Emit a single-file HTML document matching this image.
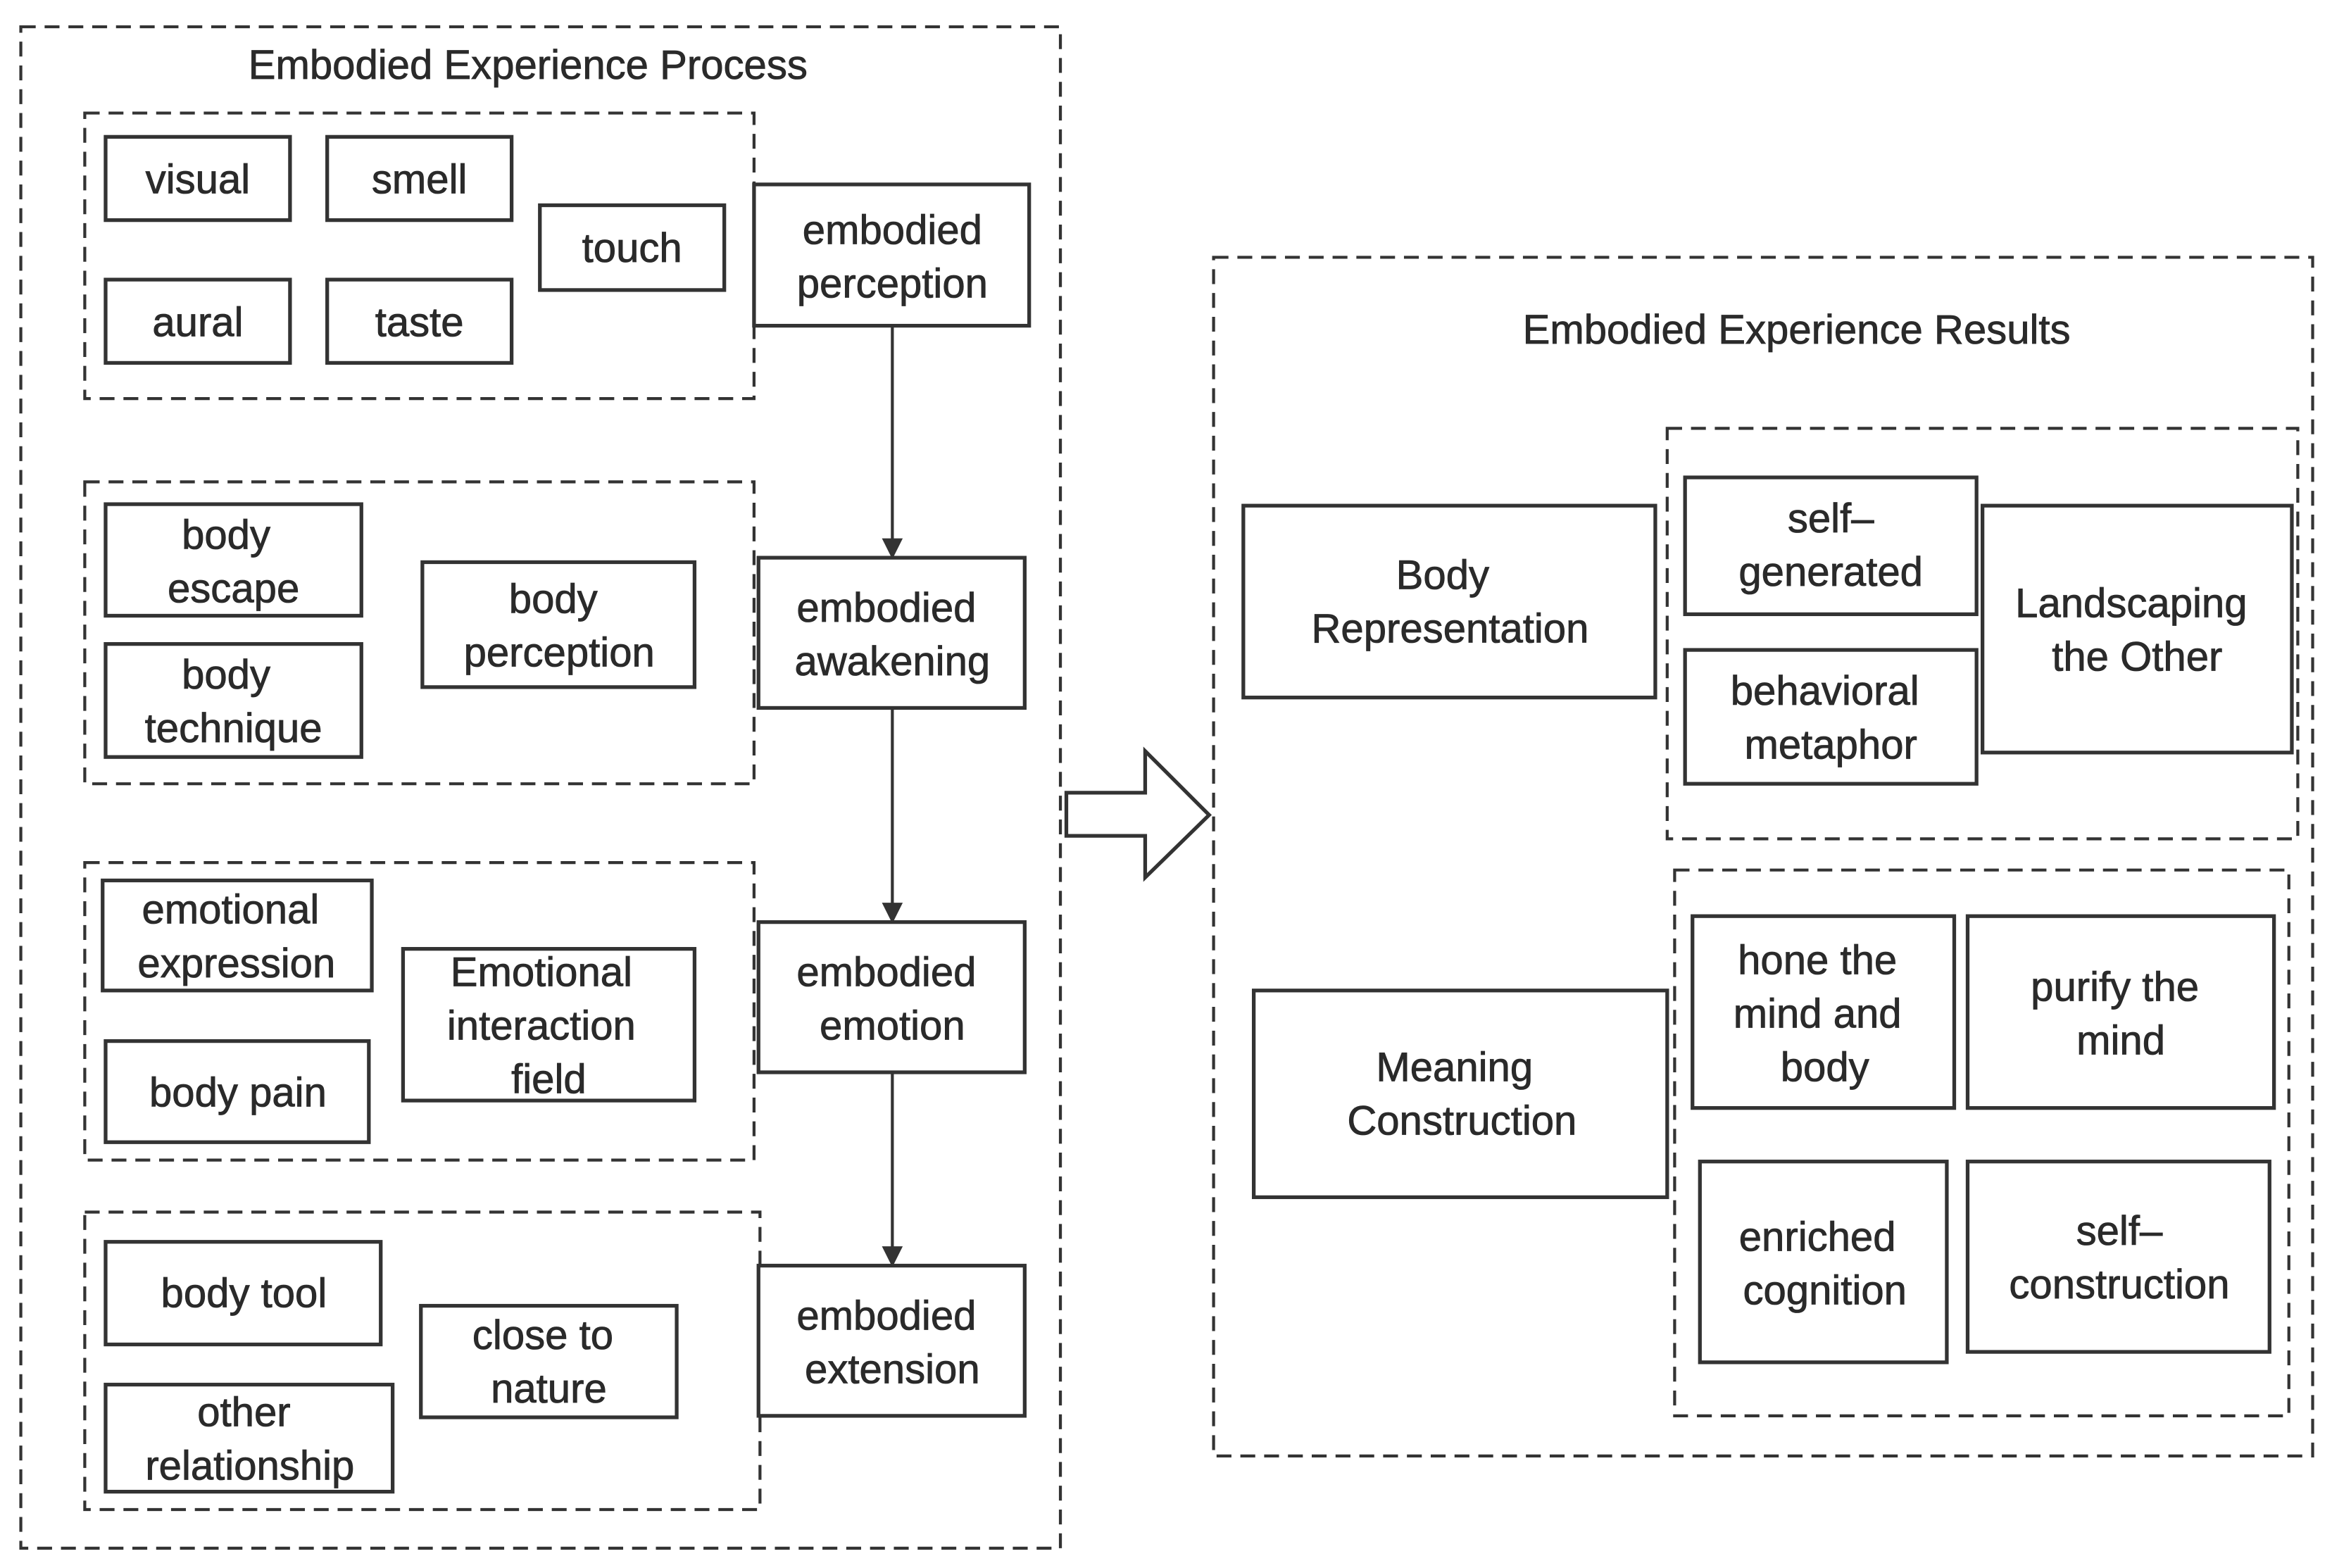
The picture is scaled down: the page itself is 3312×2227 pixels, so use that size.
<!DOCTYPE html>
<html><head><meta charset="utf-8"><style>html,body{margin:0;padding:0;background:#fff}svg{display:block}</style></head><body>
<svg width="3312" height="2227" viewBox="0 0 1568 1054.3" xmlns="http://www.w3.org/2000/svg" font-family="Liberation Sans, Arial, sans-serif" font-size="27.5" fill="#2a2a2a">
<defs><marker id="ah" markerWidth="14" markerHeight="16" refX="13" refY="8" orient="auto" markerUnits="userSpaceOnUse"><path d="M0,1 L14,8 L0,15 z" fill="#333"/></marker></defs>
<g fill="none" stroke="#333" stroke-width="2" stroke-dasharray="10,6">
<rect x="14" y="18" width="699" height="1023"/>
<rect x="57" y="76" width="450" height="192"/>
<rect x="57" y="324" width="450" height="203"/>
<rect x="57" y="580" width="450" height="200"/>
<rect x="57" y="815" width="454" height="200"/>
<rect x="816" y="173" width="739" height="806"/>
<rect x="1121" y="288" width="424" height="276"/>
<rect x="1126" y="585" width="413" height="367"/>
</g>
<g fill="#fff" stroke="#333" stroke-width="2.5">
<rect x="71" y="92" width="124" height="56"/><rect x="220" y="92" width="124" height="56"/>
<rect x="363" y="138" width="124" height="57"/><rect x="71" y="188" width="124" height="56"/>
<rect x="220" y="188" width="124" height="56"/>
<rect x="507" y="124" width="185" height="95"/>
<rect x="71" y="339" width="172" height="75"/><rect x="71" y="433" width="172" height="76"/>
<rect x="284" y="378" width="183" height="84"/>
<rect x="510" y="375" width="179" height="101"/>
<rect x="69" y="592" width="181" height="74"/><rect x="71" y="700" width="177" height="68"/>
<rect x="271" y="638" width="196" height="102"/>
<rect x="510" y="620" width="179" height="101"/>
<rect x="71" y="835" width="185" height="69"/><rect x="71" y="931" width="193" height="72"/>
<rect x="283" y="878" width="172" height="75"/>
<rect x="510" y="851" width="179" height="101"/>
<rect x="836" y="340" width="277" height="129"/>
<rect x="1133" y="321" width="196" height="92"/><rect x="1133" y="437" width="196" height="90"/>
<rect x="1333" y="340" width="208" height="166"/>
<rect x="843" y="666" width="278" height="139"/>
<rect x="1138" y="616" width="176" height="129"/><rect x="1323" y="616" width="206" height="129"/>
<rect x="1143" y="781" width="166" height="135"/><rect x="1323" y="781" width="203" height="128"/>
</g>
<g stroke="#333" stroke-width="2" marker-end="url(#ah)">
<line x1="600" y1="219" x2="600" y2="375"/><line x1="600" y1="476" x2="600" y2="620"/><line x1="600" y1="721" x2="600" y2="851"/>
</g>
<path d="M717,533 L770,533 L770,505 L813,548 L770,590 L770,562 L717,562 Z" fill="#fff" stroke="#333" stroke-width="2.5"/>
<g text-anchor="middle" stroke="#2a2a2a" stroke-width="0.4">
<text x="355" y="53">Embodied Experience Process</text>
<text x="1208" y="231">Embodied Experience Results</text>
<text x="133" y="130">visual</text><text x="282" y="130">smell</text><text x="425" y="176">touch</text>
<text x="133" y="226">aural</text><text x="282" y="226">taste</text>
<text x="600" y="164">embodied</text><text x="600" y="200">perception</text>
<text x="152" y="369">body</text><text x="157" y="405">escape</text>
<text x="152" y="463">body</text><text x="157" y="499">technique</text>
<text x="372" y="412">body</text><text x="376" y="448">perception</text>
<text x="596" y="418">embodied</text><text x="600" y="454">awakening</text>
<text x="155" y="621">emotional</text><text x="159" y="657">expression</text>
<text x="160" y="744">body pain</text>
<text x="364" y="663">Emotional</text><text x="364" y="699">interaction</text><text x="369" y="735">field</text>
<text x="596" y="663">embodied</text><text x="600" y="699">emotion</text>
<text x="164" y="879">body tool</text>
<text x="164" y="959">other</text><text x="168" y="995">relationship</text>
<text x="365" y="907">close to</text><text x="369" y="943">nature</text>
<text x="596" y="894">embodied</text><text x="600" y="930">extension</text>
<text x="970" y="396">Body</text><text x="975" y="432">Representation</text>
<text x="1231" y="358">self–</text><text x="1231" y="394">generated</text>
<text x="1227" y="474">behavioral</text><text x="1231" y="510">metaphor</text>
<text x="1433" y="415">Landscaping</text><text x="1437" y="451">the Other</text>
<text x="978" y="727">Meaning</text><text x="983" y="763">Construction</text>
<text x="1222" y="655">hone the</text><text x="1222" y="691">mind and</text><text x="1227" y="727">body</text>
<text x="1422" y="673">purify the</text><text x="1426" y="709">mind</text>
<text x="1222" y="841">enriched</text><text x="1227" y="877">cognition</text>
<text x="1425" y="837">self–</text><text x="1425" y="873">construction</text>
</g>
</svg>
</body></html>
